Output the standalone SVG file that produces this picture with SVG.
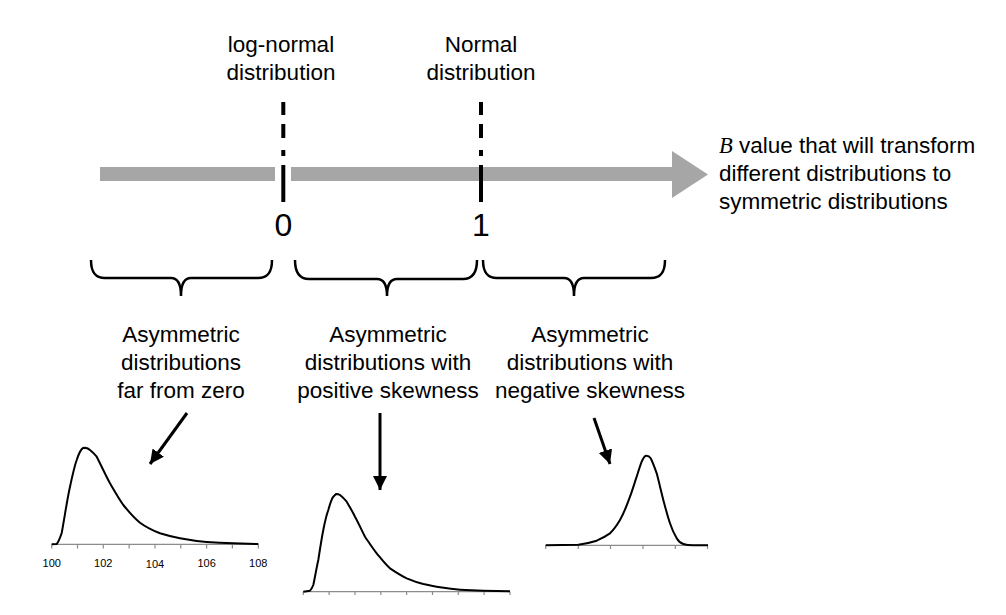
<svg xmlns="http://www.w3.org/2000/svg" width="1006" height="615" viewBox="0 0 1006 615">
<defs>
<style>
.t{font-family:"Liberation Sans",Arial,sans-serif;font-size:22.5px;fill:#000}
.num{font-family:"Liberation Sans",Arial,sans-serif;font-size:32px;fill:#000}
.tick{font-family:"Liberation Sans",Arial,sans-serif;font-size:11px;fill:#000}
.grey{fill:#a6a6a6}
.dash{stroke:#000;stroke-width:4;fill:none}
.brace{stroke:#000;stroke-width:2.5;fill:none}
.axis{stroke:#8c8c8c;stroke-width:1.2;fill:none}
.curve{stroke:#000;stroke-width:2;fill:none;stroke-linejoin:round}
.conn{stroke:#000;stroke-width:3;fill:none}
</style>
<marker id="ah" markerUnits="userSpaceOnUse" markerWidth="16" markerHeight="16" refX="14" refY="7" orient="auto">
<path d="M0,0 L14,7 L0,14 Z" fill="#000"/>
</marker>
</defs>
<rect width="1006" height="615" fill="#fff"/>

<g id="scale-axis">
<rect class="grey" x="100" y="167" width="175" height="14"/>
<polygon class="grey" points="291,167 672,167 672,151 708,174.5 672,198 672,181 291,181"/>
</g>

<g id="marker-0">
<path class="dash" d="M283.3,102 V115 M283.3,124 V138 M283.3,150 V156"/>
<path class="dash" d="M283.3,165 V202" stroke-width="4.5"/>
<text class="num" x="283.3" y="236" text-anchor="middle">0</text>
<text class="t" x="281" y="52" text-anchor="middle">log-normal</text>
<text class="t" x="281" y="80" text-anchor="middle">distribution</text>
</g>

<g id="marker-1">
<path class="dash" d="M481,102 V115 M481,124 V138 M481,150 V156"/>
<path class="dash" d="M481,165 V202" stroke-width="4.5"/>
<text class="num" x="481" y="236" text-anchor="middle">1</text>
<text class="t" x="481" y="52" text-anchor="middle">Normal</text>
<text class="t" x="481" y="80" text-anchor="middle">distribution</text>
</g>

<g id="axis-label">
<text class="t" x="719" y="153"><tspan font-family="'Liberation Serif',serif" font-style="italic">B</tspan> value that will transform</text>
<text class="t" x="719" y="181">different distributions to</text>
<text class="t" x="719" y="209">symmetric distributions</text>
</g>

<g id="brace-1">
<path class="brace" d="M91,260 C91,272 95,278 105,278 L171,278 C177,278 181,283 181,296 C181,283 185,278 191,278 L258,278 C268,278 272,272 272,260"/>
<text class="t" x="181" y="342" text-anchor="middle">Asymmetric</text>
<text class="t" x="181" y="370" text-anchor="middle">distributions</text>
<text class="t" x="181" y="398" text-anchor="middle">far from zero</text>
</g>

<g id="brace-2">
<path class="brace" d="M295,260 C295,272 299,279 309,279 L377,279 C383,279 387,284 387,296 C387,284 391,279 397,279 L463,279 C473,279 477,272 477,260"/>
<text class="t" x="388" y="342" text-anchor="middle">Asymmetric</text>
<text class="t" x="388" y="370" text-anchor="middle">distributions with</text>
<text class="t" x="388" y="398" text-anchor="middle">positive skewness</text>
</g>

<g id="brace-3">
<path class="brace" d="M483,260 C483,272 487,278 497,278 L564,278 C570,278 574,283 574,296 C574,283 578,278 584,278 L651,278 C661,278 665,272 665,260"/>
<text class="t" x="590" y="342" text-anchor="middle">Asymmetric</text>
<text class="t" x="590" y="370" text-anchor="middle">distributions with</text>
<text class="t" x="590" y="398" text-anchor="middle">negative skewness</text>
</g>

<g id="chart-1">
<path class="axis" d="M51.7,544.3 H258.3 M51.7,544.3 V548.5 M77.5,544.3 V548.5 M103.3,544.3 V548.5 M129.1,544.3 V548.5 M155,544.3 V548.5 M180.8,544.3 V548.5 M206.6,544.3 V548.5 M232.4,544.3 V548.5 M258.3,544.3 V548.5"/>
<path class="curve" d="M51.7,544.3 L56.7,544 C58.5,542 60,538 61.7,533 C64.5,518 67,500 70,486.7 C72.5,475 74.5,466 76.7,460 C79,453 81,449 83,448 L85,447.7 C87.5,448 89,449 90,450 C92.5,452 94.5,454 96.7,456.7 C101,465 105,474 110,483.3 C114.5,491 118.5,498 123.3,505 C129,512 134,518 140,522.7 C146.5,527.5 153,530.5 160,533.3 C167,535.5 173,537 180,538.3 C189,540 198,541.3 206.7,542 C215.5,542.7 224.5,543.1 233.3,543.3 L258.3,544"/>
<text class="tick" x="51.7" y="566.5" text-anchor="middle">100</text>
<text class="tick" x="103.3" y="566.5" text-anchor="middle">102</text>
<text class="tick" x="155" y="567.5" text-anchor="middle">104</text>
<text class="tick" x="206.6" y="566.5" text-anchor="middle">106</text>
<text class="tick" x="258.3" y="566.5" text-anchor="middle">108</text>
</g>

<g id="chart-2">
<path class="axis" d="M303.3,591.7 H510 M303.3,591.7 V595 M329.1,591.7 V595 M355,591.7 V595 M380.8,591.7 V595 M406.6,591.7 V595 M432.5,591.7 V595 M458.3,591.7 V595 M484.1,591.7 V595 M510,591.7 V595"/>
<path class="curve" d="M303.3,591.7 L310,590.7 C311.5,589 312.5,587 313.3,585 C315,577 316.5,568 318.3,560 C320,549 321.5,539 323.3,530 C325,521 326.5,515 328.3,510 C330,504 331.5,499 333.3,496.7 L336,494 C337.5,494 339,494.3 340,495 C342.5,497 344.5,499 346.7,501.7 C349.5,506.5 352.5,511.5 355,516.7 C358.5,523 361.5,530 365,536.7 C369,542.5 372.5,548 376.7,553.3 C381,558.5 385,564 390,568.3 C395.5,572 401,575.5 406.7,578.3 C412,580.5 417.5,582.5 423.3,584 C429,585.3 434.5,586.5 440,587.3 C446.5,588.3 453,589.2 460,589.7 C468,590.2 475.5,590.5 483.3,590.7 L510,591.3"/>
</g>

<g id="chart-3">
<path class="axis" d="M545.7,545.3 H708 M545.7,545.3 V549 M578.3,545.3 V549 M610.5,545.3 V549 M643,545.3 V549 M675.3,545.3 V549 M707.5,545.3 V549"/>
<path class="curve" d="M545.7,545.3 L578.3,544.7 C585,543.8 591,542.5 596.7,540.7 C601.5,538.5 606,536 610,533.3 C614,529.5 617,525 620,520 C624,513 627,505 630,496.7 C632.5,490 634.5,483 636.7,476.7 C638.5,471 640,466 641.7,461.7 C643,458.5 644.5,456 646,455.7 C647.8,455.5 649.5,456.5 650.7,458.3 C652.8,462.5 654.8,468 656.7,473.3 C659,482 661,491 663.3,500 C665.5,508 667.5,516 670,523.3 C672,529.5 674.5,534.5 676.7,538.3 C678.5,541.5 681,543.3 683.3,544 C686,545 689.5,545.3 693.3,545.3 L708,545.3"/>
</g>

<g id="connectors">
<line class="conn" x1="187" y1="413" x2="150" y2="464" marker-end="url(#ah)"/>
<line class="conn" x1="380" y1="413" x2="380" y2="490" marker-end="url(#ah)"/>
<line class="conn" x1="594" y1="418" x2="610" y2="464" marker-end="url(#ah)"/>
</g>
</svg>
